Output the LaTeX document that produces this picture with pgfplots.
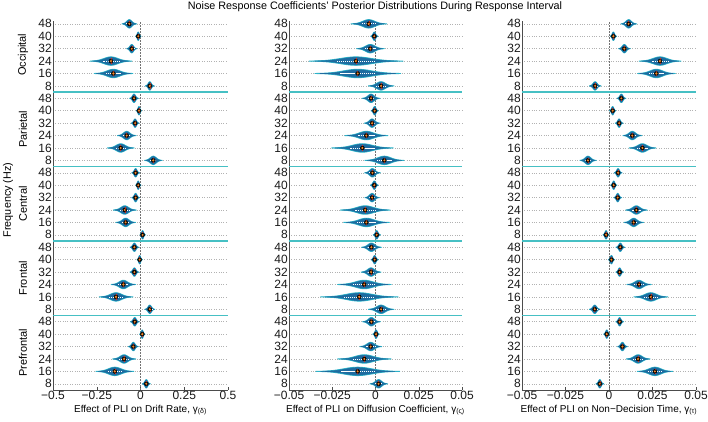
\documentclass[border=0pt]{standalone}
\usepackage{pgfplots}
\pgfplotsset{compat=1.18}
\usepackage{pgfplotstable}
\usepackage{fontspec}
\setmainfont{Liberation Sans}
\definecolor{vdark}{RGB}{30,108,160}
\definecolor{vlight}{RGB}{45,178,200}
\definecolor{sepc}{RGB}{70,192,196}
\definecolor{dotc}{RGB}{240,135,40}
\definecolor{medc}{RGB}{215,45,30}

% violin outline template (rendering shape only)
\pgfplotstableread{
u v
-3 0
-2.75 0.0228
-2.5 0.0439
-2.25 0.0796
-2 0.1353
-1.75 0.2163
-1.5 0.3247
-1.25 0.4578
-1 0.6065
-0.75 0.7548
-0.5 0.8825
-0.25 0.9692
0 1
0.25 0.9692
0.5 0.8825
0.75 0.7548
1 0.6065
1.25 0.4578
1.5 0.3247
1.75 0.2163
2 0.1353
2.25 0.0796
2.5 0.0439
2.75 0.0228
3 0
2.75 -0.0228
2.5 -0.0439
2.25 -0.0796
2 -0.1353
1.75 -0.2163
1.5 -0.3247
1.25 -0.4578
1 -0.6065
0.75 -0.7548
0.5 -0.8825
0.25 -0.9692
0 -1
-0.25 -0.9692
-0.5 -0.8825
-0.75 -0.7548
-1 -0.6065
-1.25 -0.4578
-1.5 -0.3247
-1.75 -0.2163
-2 -0.1353
-2.25 -0.0796
-2.5 -0.0439
-2.75 -0.0228
-3 0
}\vshape

% drift rate: y row, c centre, w half-width
\pgfplotstableread{
y c w
1 0.033 0.023
2 -0.147 0.109
3 -0.094 0.067
4 -0.041 0.029
5 0.010 0.016
6 -0.033 0.026
7 0.053 0.029
8 -0.140 0.097
9 -0.098 0.071
10 -0.035 0.026
11 -0.005 0.016
12 -0.035 0.026
13 0.012 0.016
14 -0.085 0.057
15 -0.090 0.066
16 -0.028 0.023
17 -0.013 0.016
18 -0.028 0.023
19 0.073 0.051
20 -0.113 0.077
21 -0.079 0.054
22 -0.031 0.023
23 -0.009 0.016
24 -0.037 0.026
25 0.053 0.026
26 -0.155 0.111
27 -0.169 0.120
28 -0.050 0.030
29 -0.013 0.016
30 -0.064 0.043
}\tblA

% diffusion coefficient
\pgfplotstableread{
y c w
1 0.0018 0.0052
2 -0.0103 0.0243
3 -0.0065 0.0156
4 -0.0028 0.0064
5 0.0003 0.0020
6 -0.0024 0.0052
7 0.0032 0.0075
8 -0.0094 0.0225
9 -0.0065 0.0156
10 -0.0026 0.0058
11 -0.0005 0.0022
12 -0.0024 0.0058
13 0.0007 0.0022
14 -0.0053 0.0133
15 -0.0060 0.0145
16 -0.0020 0.0043
17 -0.0007 0.0024
18 -0.0018 0.0046
19 0.0051 0.0114
20 -0.0076 0.0179
21 -0.0053 0.0125
22 -0.0020 0.0046
23 -0.0005 0.0022
24 -0.0026 0.0052
25 0.0032 0.0075
26 -0.0103 0.0249
27 -0.0113 0.0272
28 -0.0030 0.0081
29 -0.0007 0.0022
30 -0.0039 0.0104
}\tblB

% non-decision time
\pgfplotstableread{
y c w
1 -0.0053 0.0023
2 0.0264 0.0103
3 0.0167 0.0069
4 0.0077 0.0029
5 -0.0013 0.0019
6 0.0061 0.0023
7 -0.0082 0.0032
8 0.0240 0.0098
9 0.0172 0.0071
10 0.0061 0.0023
11 0.0014 0.0019
12 0.0065 0.0026
13 -0.0017 0.0019
14 0.0142 0.0057
15 0.0157 0.0063
16 0.0050 0.0023
17 0.0027 0.0019
18 0.0052 0.0023
19 -0.0121 0.0048
20 0.0192 0.0078
21 0.0134 0.0055
22 0.0058 0.0023
23 0.0021 0.0019
24 0.0071 0.0026
25 -0.0080 0.0034
26 0.0272 0.0109
27 0.0293 0.0121
28 0.0088 0.0034
29 0.0025 0.0019
30 0.0113 0.0046
}\tblC

% region separators (row boundaries), ends of the line
\pgfplotstableread{
xs d
-1 0
1 0
}\septbl

\newcommand\sepline[3]{%
  \addplot[draw=sepc, line width=1.8pt]
    table[x expr={(\thisrow{xs}<0) ? #2 : #3}, y expr={#1+\thisrow{d}}] {\septbl};}

\newcommand\drawviolins[3]{% table, xmin, xmax
  \addplot[densely dotted, black!55, line width=0.5pt] coordinates {(0,0.5) (0,30.23)};
  \sepline{6.5}{#2}{#3}
  \sepline{12.5}{#2}{#3}
  \sepline{18.5}{#2}{#3}
  \sepline{24.5}{#2}{#3}
  \pgfplotsforeachungrouped \i in {0,...,29}{%
    \pgfplotstablegetelem{\i}{y}\of#1\let\vy\pgfplotsretval
    \pgfplotstablegetelem{\i}{c}\of#1\let\vc\pgfplotsretval
    \pgfplotstablegetelem{\i}{w}\of#1\let\vw\pgfplotsretval
    \addplot[draw=vlight, fill=vlight, line width=0.9pt, line join=round]
      table[x expr=\vc+\vw*(\thisrow{u})/3, y expr=\vy+0.34*(\thisrow{v})] {\vshape};
    \addplot[draw=vdark, line width=0.5pt, line join=round, fill=vdark]
      table[x expr=\vc+0.88*\vw*(\thisrow{u})/3, y expr=\vy+0.30*(\thisrow{v})] {\vshape};
  }
  \addplot[only marks, mark=none, error bars/.cd, x dir=both, x explicit, error mark=none,
    error bar style={white, line width=0.7pt, dash pattern=on 1.2pt off 0.8pt}]
    table[x=c, y=y, x error expr=0.4*\thisrow{w}] {#1};
  \addplot[only marks, mark=|, mark size=2.6pt, mark options={draw=medc, line width=0.5pt}]
    table[x=c, y=y] {#1};
  \addplot[only marks, mark=*, mark size=1.7pt, mark options={fill=dotc, draw=none}]
    table[x=c, y=y] {#1};
}

\pgfplotsset{vaxis/.style={
  scale only axis, height=369pt,
  ymin=0.5, ymax=30.23,
  ytick={1,...,30},
  yticklabels={8,16,24,32,40,48,8,16,24,32,40,48,8,16,24,32,40,48,8,16,24,32,40,48,8,16,24,32,40,48},
  axis x line*=bottom, axis y line*=left,
  axis line style={-, draw=black!70, line width=0.5pt},
  ymajorgrids, grid style={dotted, black!30, line width=0.5pt},
  y tick style={draw=none},
  x tick style={draw=black!70},
  tick align=inside, major tick length=3pt,
  scaled x ticks=false,
  ticklabel style={font=\fontsize{12}{12}\selectfont, text=black!90},
  yticklabel style={inner sep=1pt},
  xticklabel style={yshift=2pt},
  xlabel style={font=\fontsize{10}{11}\selectfont, at={(axis description cs:0.5,0)}, anchor=center, yshift=-20pt},
  /pgf/number format/assume math mode=true,
  clip=false, anchor=south west,
}}

\begin{document}
\begin{tikzpicture}
\useasboundingbox (0,0) rectangle (708pt,422pt);

\node[font=\fontsize{10.8}{12}\selectfont] at (375pt,415pt) {Noise Response Coefficients' Posterior Distributions During Response Interval};
\node[rotate=90, font=\fontsize{10.8}{12}\selectfont] at (8pt,222pt) {Frequency (Hz)};

\begin{axis}[vaxis, at={(53pt,32pt)}, width=175pt,
  xmin=-0.5, xmax=0.5,
  xtick={-0.5,-0.25,0,0.25,0.5},
  xticklabels={−0.5,−0.25,0,0.25,0.5},
  xlabel={Effect of PLI on Drift Rate, γ\textsubscript{(δ)}}]
\drawviolins{\tblA}{-0.5}{0.5}
\node[rotate=90, font=\fontsize{11}{11}\selectfont] at ([xshift=-30pt]axis cs:-0.5,27.5) {Occipital};
\node[rotate=90, font=\fontsize{11}{11}\selectfont] at ([xshift=-30pt]axis cs:-0.5,21.5) {Parietal};
\node[rotate=90, font=\fontsize{11}{11}\selectfont] at ([xshift=-30pt]axis cs:-0.5,15.5) {Central};
\node[rotate=90, font=\fontsize{11}{11}\selectfont] at ([xshift=-30pt]axis cs:-0.5,9.5) {Frontal};
\node[rotate=90, font=\fontsize{11}{11}\selectfont] at ([xshift=-30pt]axis cs:-0.5,3.5) {Prefrontal};
\end{axis}

\begin{axis}[vaxis, at={(289pt,32pt)}, width=173pt,
  xmin=-0.05, xmax=0.05,
  xtick={-0.05,-0.025,0,0.025,0.05},
  xticklabels={−0.05,−0.025,0,0.025,0.05},
  xlabel={Effect of PLI on Diffusion Coefficient, γ\textsubscript{(ς)}}]
\drawviolins{\tblB}{-0.05}{0.05}
\end{axis}

\begin{axis}[vaxis, at={(522pt,32pt)}, width=174pt,
  xmin=-0.05, xmax=0.05,
  xtick={-0.05,-0.025,0,0.025,0.05},
  xticklabels={−0.05,−0.025,0,0.025,0.05},
  xlabel={Effect of PLI on Non−Decision Time, γ\textsubscript{(τ)}}]
\drawviolins{\tblC}{-0.05}{0.05}
\end{axis}
\end{tikzpicture}
\end{document}
